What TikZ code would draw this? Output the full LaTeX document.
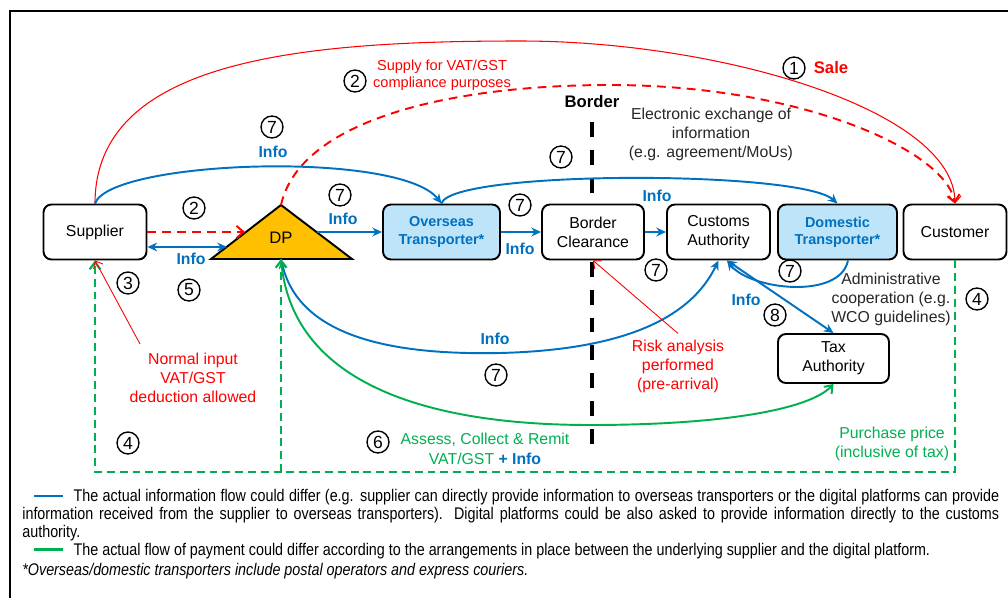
\documentclass[tikz,border=0pt]{standalone}
\usepackage{fontspec}
\setmainfont{Liberation Sans}
\newfontfamily\narrowfont{Liberation Sans}[FakeStretch=0.85]
\usetikzlibrary{arrows.meta}

\definecolor{infoblue}{RGB}{0,112,192}
\definecolor{salered}{RGB}{255,0,0}
\definecolor{paygreen}{RGB}{0,176,80}
\definecolor{dporange}{RGB}{255,192,0}
\definecolor{transfill}{RGB}{190,228,250}

\tikzset{
  box/.style={draw, line width=1.1pt, rounded corners=4.5pt, fill=white, align=center,
    minimum width=2.06cm, minimum height=1.1cm, inner sep=1pt,
    font=\fontsize{9}{10.8}\selectfont},
  transbox/.style={box, fill=transfill, text=infoblue,
    font=\bfseries\fontsize{8.2}{9.8}\selectfont},
  num/.style={circle, draw, line width=0.8pt, inner sep=0pt, minimum size=12.5pt,
    font=\fontsize{10}{10}\selectfont},
  infolbl/.style={text=infoblue, font=\bfseries\fontsize{9}{10}\selectfont},
  note/.style={align=center, font=\fontsize{9}{10.8}\selectfont},
  infoflow/.style={draw=infoblue, line width=1.1pt, -{Stealth[length=5.5pt,width=5pt]}},
  twoway/.style={infoflow, {Stealth[length=5.5pt,width=5pt]}-{Stealth[length=5.5pt,width=5pt]}},
  saleflow/.style={draw=salered, line width=0.6pt, -{Straight Barb[length=4pt,width=7pt]}},
  supplyflow/.style={draw=salered, line width=1.1pt, dash pattern=on 5pt off 3.5pt,
    -{Straight Barb[length=4pt,width=7pt]}},
  noteflow/.style={draw=salered, line width=0.5pt, -{Straight Barb[length=3.5pt,width=6pt]}},
  payflow/.style={draw=paygreen, line width=1.1pt, -{Straight Barb[length=4pt,width=6pt]}},
  paydash/.style={draw=paygreen, line width=1.2pt, dash pattern=on 4.5pt off 2.8pt,
    -{Straight Barb[length=4pt,width=6pt]}},
}

\begin{document}
\begin{tikzpicture}[x=0.02cm,y=-0.02cm]
\useasboundingbox (0,0) rectangle (1008,598);

% frame
\draw[line width=1.7pt] (10,598) -- (10,11) -- (1008,11);

% border line
\node[font=\bfseries\fontsize{9.5}{10}\selectfont] (border) at (592,102) {Border};
\coordinate (btop) at (592,122);
\coordinate (bbot) at (592,452);
\draw[line width=2.3pt, dash pattern=on 8.5pt off 7.4pt] (btop) -- (bbot);

% actors
\node[box] (supplier) at (95,232) {Supplier};
\node[transbox, minimum width=2.34cm] (overseas) at (441.5,232) {Overseas\\Transporter*};
\node[box, minimum width=2.04cm] (clearance) at (593,232) {Border\\Clearance};
\node[box] (customs) at (718.5,232) {Customs\\Authority};
\node[transbox, minimum width=2.38cm] (domestic) at (837.5,232) {Domestic\\Transporter*};
\node[box] (customer) at (955,232) {Customer};
\node[box, minimum width=2.22cm, minimum height=0.98cm] (tax) at (833.5,358.5) {Tax\\Authority};

% digital platform
\coordinate (dptop) at (281,205);
\coordinate (dpbot) at (281,259);
\coordinate (dpleft) at (245,232);
\coordinate (dpinfo) at (227,247);
\coordinate (dpright) at (317,232);
\draw[fill=dporange, line width=1.1pt] (211,259) -- (dptop) -- (352,259) -- cycle;
\node[font=\fontsize{9.5}{10}\selectfont] (dp) at (281,238) {DP};

% sale and supply
\draw[saleflow] (supplier.north) .. controls (95,60) and (300,41) .. (520,41)
  .. controls (720,41) and (955,110) .. (customer.north);
\draw[supplyflow] (dptop) .. controls (300,120) and (450,85) .. (610,85)
  .. controls (800,85) and (945,150) .. (customer.north);
\draw[supplyflow] (supplier.east) -- (dpleft);

% information flows
\draw[twoway] ([yshift=-0.3cm]supplier.east) -- (dpinfo);
\draw[infoflow] (supplier.north) .. controls (110,160) and (400,150) .. (overseas.north);
\draw[infoflow] (dpright) -- (overseas.west);
\draw[infoflow] (overseas.north) .. controls (450,170) and (800,170) .. (domestic.north);
\draw[infoflow] (overseas.east) -- (clearance.west);
\draw[infoflow] (clearance.east) -- (customs.west);
\draw[infoflow] ([xshift=0.21cm]domestic.south) .. controls (840,300) and (750,290)
  .. ([xshift=0.17cm]customs.south);
\draw[twoway] ([xshift=0.17cm]customs.south) -- (tax.north);
\draw[twoway] (dpbot) .. controls (300,340) and (400,355) .. (500,353)
  .. controls (620,350) and (690,320) .. (customs.south);

% payments
\coordinate (paycorner) at (955,472);
\coordinate (payleft) at (95,472);
\coordinate (payjoin) at (281,472);
\draw[payflow] (dpbot) .. controls (290,380) and (420,425) .. (590,425)
  .. controls (720,425) and (810,410) .. (tax.south);
\draw[paydash] (customer.south) -- (paycorner) -- (payleft) -- (supplier.south);
\draw[paydash] (payjoin) -- (dpbot);

% notes
\node[note, text=salered] (deduction) at (193,378) {Normal input\\VAT/GST\\deduction allowed};
\coordinate (dedtip) at (140,344);
\draw[noteflow] (dedtip) -- (supplier.south);
\node[note, text=salered] (risk) at (678,366) {Risk analysis\\performed\\(pre-arrival)};
\draw[noteflow] (risk.north) -- (clearance.south);

\node[note, text=salered, font=\fontsize{8.3}{9.6}\selectfont] (supplynote) at (442,75)
  {Supply for VAT/GST\\compliance purposes};
\node[text=salered, font=\bfseries\fontsize{9.5}{10}\selectfont] (sale) at (831,68) {Sale};
\node[note, text=black!85] (exchange) at (711,134) {Electronic exchange of\\information\\(e.g. agreement/MoUs)};
\node[note, text=black!85] (admin) at (891,299) {Administrative\\cooperation (e.g.\\WCO guidelines)};
\node[note, text=paygreen, font=\fontsize{9}{11.3}\selectfont] (assess) at (485,449)
  {Assess, Collect \& Remit\\VAT/GST \textcolor{infoblue}{\textbf{+ Info}}};
\node[note, text=paygreen] (price) at (892,444) {Purchase price\\(inclusive of tax)};

% info labels
\node[infolbl] (info1) at (273,152) {Info};
\node[infolbl] (info2) at (343,219) {Info};
\node[infolbl] (info3) at (191,259) {Info};
\node[infolbl] (info4) at (520,249) {Info};
\node[infolbl] (info5) at (657,196) {Info};
\node[infolbl] (info6) at (746,300) {Info};
\node[infolbl] (info7) at (495,339) {Info};

% step numbers
\node[num] (n1) at (794,68) {1};
\node[num] (n2a) at (355,81) {2};
\node[num] (n2b) at (194,208) {2};
\node[num] (n3) at (128,283) {3};
\node[num] (n4a) at (128,443) {4};
\node[num] (n4b) at (977,299) {4};
\node[num] (n5) at (189,290) {5};
\node[num] (n6) at (378,442) {6};
\node[num] (n7a) at (272,127) {7};
\node[num] (n7b) at (561,157) {7};
\node[num] (n7c) at (340,195) {7};
\node[num] (n7d) at (520,205) {7};
\node[num] (n7e) at (656,270) {7};
\node[num] (n7f) at (790,271) {7};
\node[num] (n7g) at (496,375) {7};
\node[num] (n8) at (775,315) {8};

% legend
\node[anchor=north west, inner sep=0pt, text width=556pt, align=justify,
  font=\narrowfont\fontsize{9.6}{10.2}\selectfont] (legend) at (22,489) {%
  \baselineskip=10.2pt
  \hspace*{6.8pt}\textcolor{infoblue}{\rule[2.6pt]{16.4pt}{1.4pt}}\hspace{6pt}The actual
  information flow could differ (e.g. supplier can directly provide information to overseas
  transporters or the digital platforms can provide\linebreak information received from the
  supplier to overseas transporters). Digital platforms could be also asked to provide
  information directly to the customs\linebreak authority.\par
  \hspace*{6.8pt}\textcolor{paygreen}{\rule[2.6pt]{16.4pt}{1.4pt}}\hspace{6pt}The actual flow
  of payment could differ according to the arrangements in place between the underlying
  supplier and the digital platform.\par\vspace{1pt}
  \textit{*Overseas/domestic transporters include postal operators and express couriers.}};
\end{tikzpicture}
\end{document}
